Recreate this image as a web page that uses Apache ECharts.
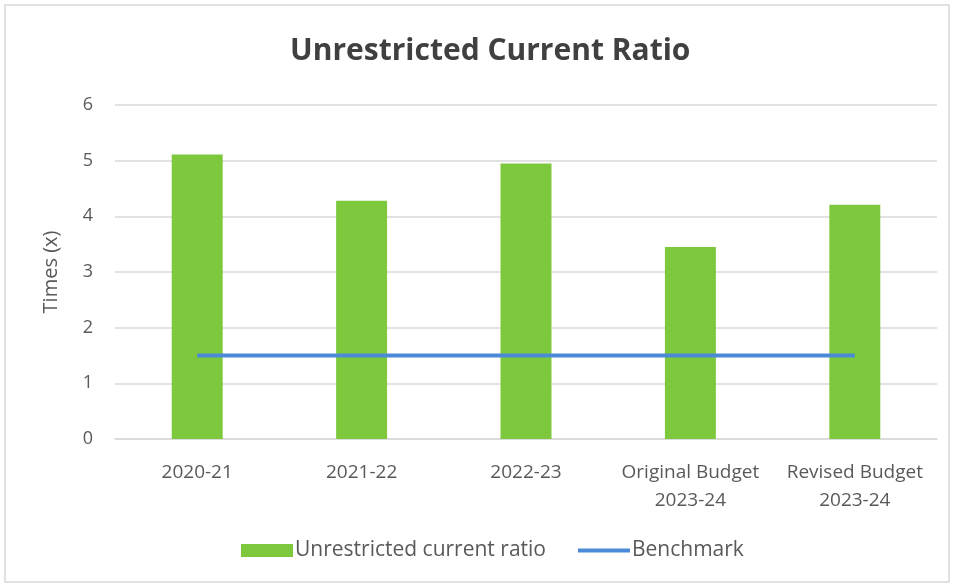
<!DOCTYPE html>
<html><head><meta charset="utf-8">
<script src="https://cdn.jsdelivr.net/npm/echarts@6/dist/echarts.min.js"></script>
<style>html,body{margin:0;padding:0;background:#fff}#c{width:955px;height:588px}</style>
</head><body><div id="c"></div>
<script>
const categories = ['2020-21','2021-22','2022-23','Original Budget\n2023-24','Revised Budget\n2023-24'];
const ratioValues = [5.11, 4.28, 4.95, 3.45, 4.21];
const benchmarkValues = [1.5, 1.5, 1.5, 1.5, 1.5];
const yTicks = [0,1,2,3,4,5,6];
const font = '"Open Sans", "Noto Sans", sans-serif';
const chart = echarts.init(document.getElementById('c'));
chart.setOption({
  animation:false,
  graphic:[{type:'rect',shape:{x:5,y:5,width:944,height:577},style:{fill:'none',stroke:'#d9d9d9',lineWidth:1.5},silent:true}],
  title:{text:'Unrestricted Current Ratio',left:285,top:31,
    textStyle:{fontFamily:font,fontSize:30,fontWeight:'bold',color:'#404040'}},
  grid:{left:115,right:18,top:105,bottom:149},
  legend:{bottom:22,left:236,itemGap:32,itemWidth:52,itemHeight:13,
    textStyle:{fontFamily:font,fontSize:21,color:'#595959',padding:[0,0,0,-3]},
    data:[{name:'Unrestricted current ratio',icon:'rect'},
          {name:'Benchmark',icon:'path://M0,0H52V4H0Z',itemStyle:{color:'#4a8ad6'}}]},
  xAxis:{type:'category',data:categories,
    axisLine:{lineStyle:{color:'#d9d9d9',width:1.5}},axisTick:{show:false},
    axisLabel:{fontFamily:font,fontSize:19,color:'#595959',margin:20,lineHeight:28,interval:0}},
  yAxis:{type:'value',min:0,max:6,interval:1,name:'Times (x)',nameLocation:'middle',nameGap:54,
    nameTextStyle:{fontFamily:font,fontSize:20,color:'#595959'},
    axisLabel:{fontFamily:font,fontSize:18,color:'#595959',margin:22,
      formatter:v=>yTicks.includes(v)?String(v):''},
    splitLine:{lineStyle:{color:'#d9d9d9',width:1.5}},axisLine:{show:false},axisTick:{show:false}},
  series:[
    {name:'Unrestricted current ratio',type:'bar',data:ratioValues,barWidth:'31%',itemStyle:{color:'#7ec83e'}},
    {name:'Benchmark',type:'line',data:benchmarkValues,symbol:'none',lineStyle:{color:'#4a8ad6',width:4},itemStyle:{color:'#4a8ad6'}}
  ]
});
</script></body></html>
